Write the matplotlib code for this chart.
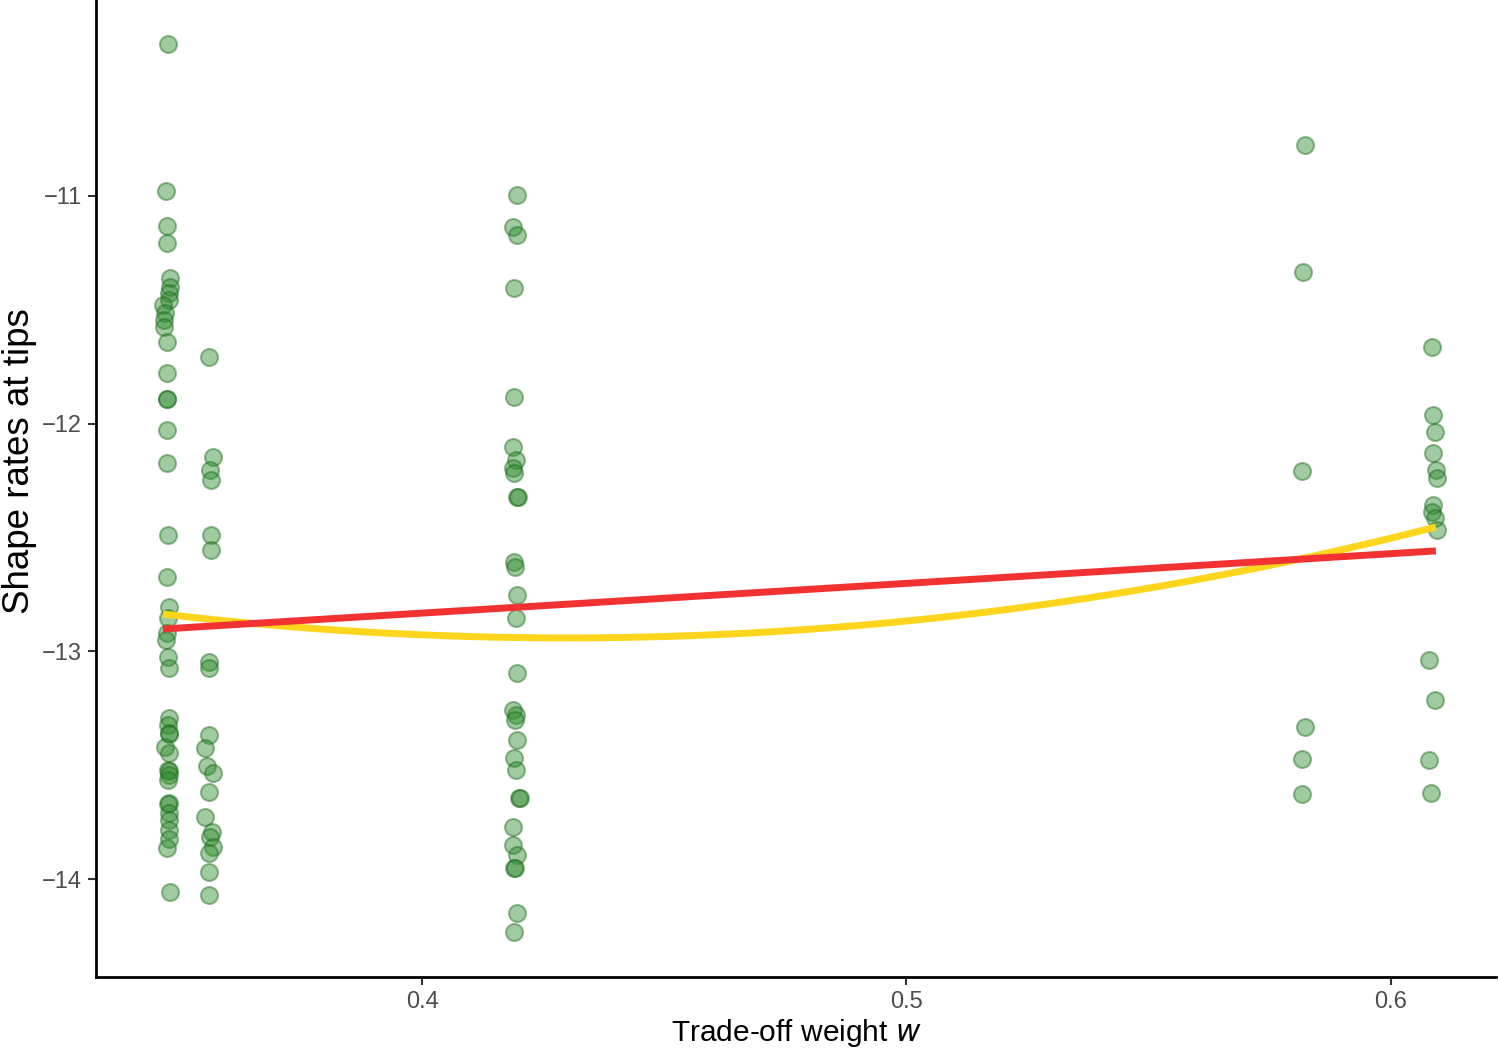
import numpy as np
import matplotlib.pyplot as plt

plt.rcParams['font.family'] = ['Liberation Sans', 'DejaVu Sans']

# trade-off weight w (jittered) and shape rates at tips
w1 = [0.3476, 0.3472, 0.3474, 0.3473, 0.3479, 0.3479, 0.3478, 0.3478, 0.3465, 0.3470,
      0.3467, 0.3467, 0.3474, 0.3474, 0.3474, 0.3474, 0.3474, 0.3474,
      0.3476, 0.3474, 0.3478, 0.3476, 0.3474, 0.3472, 0.3476, 0.3478, 0.3478, 0.3476,
      0.3478, 0.3478, 0.3470, 0.3478, 0.3476, 0.3478, 0.3478, 0.3476, 0.3478, 0.3476,
      0.3478, 0.3478, 0.3478, 0.3478, 0.3474, 0.3479]
r1 = [-10.333, -10.978, -11.132, -11.206, -11.360, -11.400, -11.426, -11.457, -11.479, -11.514,
      -11.545, -11.575, -11.641, -11.777, -11.892, -11.892, -12.028, -12.173,
      -12.489, -12.673, -12.805, -12.853, -12.919, -12.950, -13.025, -13.073, -13.292, -13.323,
      -13.358, -13.362, -13.420, -13.446, -13.521, -13.525, -13.543, -13.565, -13.666, -13.670,
      -13.710, -13.740, -13.784, -13.823, -13.862, -14.057]

w2 = [0.3560, 0.3568, 0.3562, 0.3564, 0.3564, 0.3564, 0.3560, 0.3560, 0.3560, 0.3552,
      0.3556, 0.3568, 0.3560, 0.3552, 0.3566, 0.3562, 0.3568, 0.3560, 0.3560, 0.3560]
r2 = [-11.707, -12.146, -12.203, -12.247, -12.489, -12.555, -13.047, -13.073, -13.367, -13.424,
      -13.503, -13.534, -13.617, -13.727, -13.793, -13.815, -13.859, -13.885, -13.968, -14.070]

w3 = [0.4196, 0.4188, 0.4196, 0.4190, 0.4190, 0.4188, 0.4194, 0.4188, 0.4190, 0.4196,
      0.4198, 0.4190, 0.4192, 0.4196, 0.4194, 0.4196, 0.4188, 0.4194, 0.4192, 0.4196,
      0.4190, 0.4194, 0.4200, 0.4202, 0.4188, 0.4188, 0.4196, 0.4190, 0.4192, 0.4196, 0.4190]
r3 = [-10.996, -11.136, -11.171, -11.404, -11.883, -12.102, -12.159, -12.195, -12.217, -12.322,
      -12.322, -12.607, -12.629, -12.752, -12.853, -13.095, -13.257, -13.279, -13.301, -13.389,
      -13.468, -13.521, -13.644, -13.644, -13.771, -13.850, -13.894, -13.951, -13.951, -14.149, -14.232]

w4 = [0.5822, 0.5818, 0.5816, 0.5822, 0.5816, 0.5816]
r4 = [-10.776, -11.334, -12.208, -13.332, -13.473, -13.626]

w5 = [0.6085, 0.6087, 0.6091, 0.6087, 0.6093, 0.6095, 0.6087, 0.6085, 0.6091, 0.6095,
      0.6078, 0.6091, 0.6078, 0.6083]
r5 = [-11.663, -11.962, -12.036, -12.129, -12.203, -12.238, -12.357, -12.388, -12.414, -12.467,
      -13.038, -13.213, -13.477, -13.622]

# fitted curves (linear: red, quadratic: yellow)
lin_w = [0.3465, 0.6093]
lin_r = [-12.902, -12.559]
quad_w = [0.3465, 0.4326, 0.6093]
quad_r = [-12.836, -12.941, -12.454]

w = np.array(w1 + w2 + w3 + w4 + w5)
r = np.array(r1 + r2 + r3 + r4 + r5)

fig = plt.figure(figsize=(15, 10.52), dpi=100)
ax = fig.add_axes([0.064, 0.0713, 0.9333, 0.9287])

ax.scatter(w, r, s=150, facecolor='#2e8b2e', edgecolor='#1e6b1e', alpha=0.45, linewidth=1.5, zorder=2)

xs = np.linspace(min(quad_w), max(quad_w), 200)
quad = np.polyfit(quad_w, quad_r, 2)
ax.plot(xs, np.polyval(quad, xs), color='#fdd51c', lw=5, zorder=3, solid_capstyle='butt')
ax.plot(lin_w, lin_r, color='#f23232', lw=5, zorder=4, solid_capstyle='butt')

ax.set_xlim(0.3327, 0.6217)
ax.set_ylim(-14.43, -10.14)
ax.set_xticks([0.4, 0.5, 0.6])
ax.set_xticklabels(['0.4', '0.5', '0.6'])
ax.set_yticks([-11, -12, -13, -14])
ax.set_yticklabels(['\u221211', '\u221212', '\u221213', '\u221214'])

for s in ['top', 'right']:
    ax.spines[s].set_visible(False)
for s in ['left', 'bottom']:
    ax.spines[s].set_linewidth(2)
    ax.spines[s].set_color('black')
ax.tick_params(axis='both', length=6, width=1.5, color='#333333', labelcolor='#4d4d4d',
               labelsize=17, pad=4)

ax.set_xlabel('Trade-off weight $\\it{w}$', fontsize=21.5, color='black', labelpad=3)
ax.set_ylabel('Shape rates at tips', fontsize=26.5, color='black')
ax.yaxis.set_label_coords(-0.0425, 0.528)

fig.savefig('out.png', dpi=100)
